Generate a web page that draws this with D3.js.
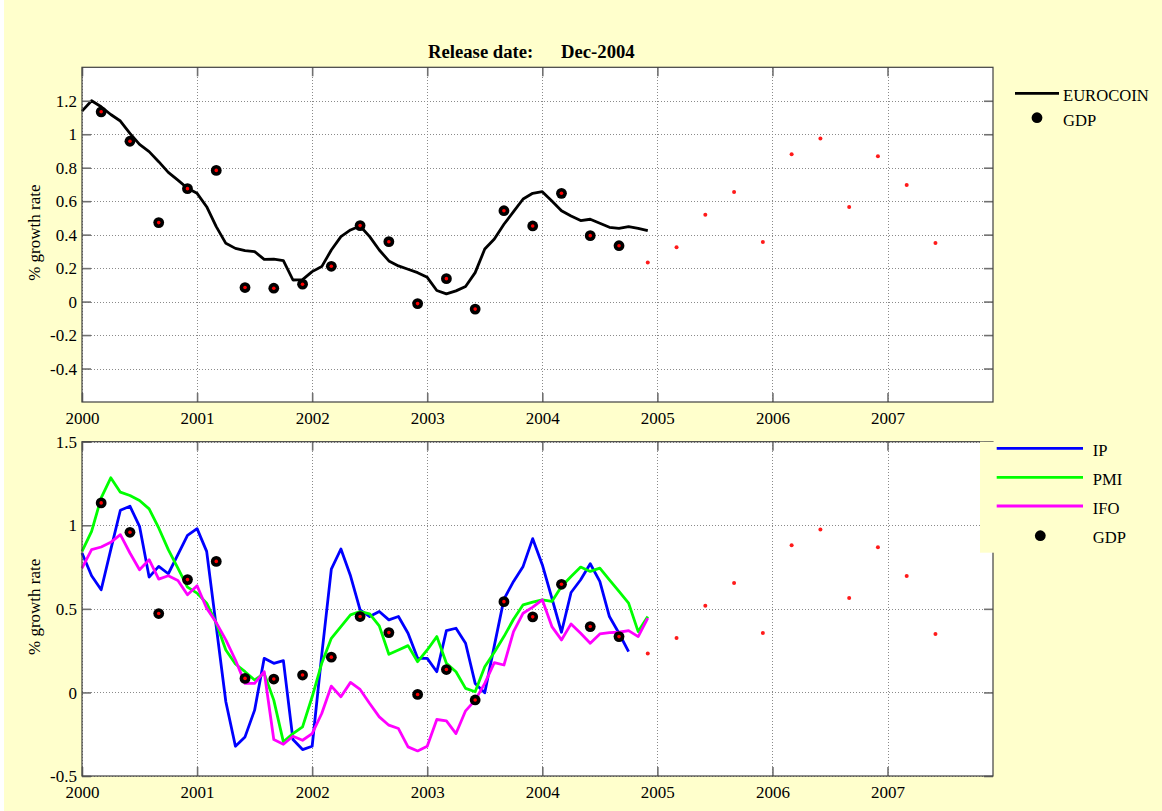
<!DOCTYPE html>
<html>
<head>
<meta charset="utf-8">
<script src="https://cdn.jsdelivr.net/npm/d3@7"></script>
<style>
  html, body { margin: 0; padding: 0; background: #ffffff; }
  svg { display: block; }
  text { font-family: "Liberation Serif", "Times New Roman", serif; fill: #000; }
</style>
</head>
<body>
<svg id="chart" width="1162" height="811"></svg>
<script>
// ---------------- data ----------------
const startYear = 2000;            // first monthly observation: Jan 2000
const yearTicks = [2000, 2001, 2002, 2003, 2004, 2005, 2006, 2007];
const topYTicks = [-0.4, -0.2, 0, 0.2, 0.4, 0.6, 0.8, 1, 1.2];
const botYTicks = [-0.5, 0, 0.5, 1, 1.5];
const titleLeft = "Release date:";
const titleRight = "Dec-2004";
const yLabel = "% growth rate";
const topLegend = ["EUROCOIN", "GDP"];
const botLegend = ["IP", "PMI", "IFO", "GDP"];

// monthly EUROCOIN, Jan 2000 - Dec 2004
const eurocoin = [1.138, 1.200, 1.164, 1.118, 1.079, 1.005, 0.939, 0.896, 0.836, 0.772, 0.726, 0.677,
                  0.647, 0.567, 0.448, 0.348, 0.318, 0.304, 0.299, 0.252, 0.254, 0.245, 0.129, 0.131,
                  0.179, 0.209, 0.308, 0.388, 0.428, 0.452, 0.388, 0.308, 0.243, 0.213, 0.193, 0.173,
                  0.145, 0.066, 0.046, 0.064, 0.090, 0.173, 0.314, 0.374, 0.462, 0.537, 0.613, 0.647,
                  0.657, 0.601, 0.543, 0.511, 0.484, 0.492, 0.468, 0.444, 0.438, 0.448, 0.438, 0.424];

// monthly IP, Jan 2000 - Oct 2004
const ip = [0.834, 0.698, 0.614, 0.854, 1.090, 1.114, 0.994, 0.690, 0.754, 0.710, 0.824, 0.940,
            0.980, 0.844, 0.394, -0.056, -0.322, -0.266, -0.106, 0.204, 0.174, 0.190, -0.282, -0.342,
            -0.322, 0.225, 0.738, 0.858, 0.698, 0.494, 0.454, 0.484, 0.434, 0.454, 0.354, 0.204,
            0.204, 0.124, 0.370, 0.384, 0.294, 0.054, -0.002, 0.280, 0.558, 0.664, 0.754, 0.920,
            0.764, 0.564, 0.360, 0.598, 0.674, 0.770, 0.664, 0.454, 0.354, 0.244];

// monthly PMI, Jan 2000 - Dec 2004
const pmi = [0.844, 0.964, 1.164, 1.284, 1.198, 1.178, 1.148, 1.098, 0.984, 0.854, 0.744, 0.630,
             0.594, 0.534, 0.414, 0.254, 0.170, 0.124, 0.074, 0.114, -0.046, -0.296, -0.246, -0.206,
             -0.026, 0.174, 0.324, 0.394, 0.464, 0.484, 0.470, 0.398, 0.228, 0.254, 0.280, 0.184,
             0.254, 0.334, 0.174, 0.124, 0.024, 0.004, 0.154, 0.240, 0.334, 0.438, 0.524, 0.540,
             0.554, 0.544, 0.634, 0.694, 0.750, 0.724, 0.744, 0.674, 0.604, 0.534, 0.364, 0.454];

// monthly IFO, Jan 2000 - Dec 2004
const ifo = [0.744, 0.854, 0.870, 0.898, 0.944, 0.834, 0.734, 0.794, 0.678, 0.698, 0.670, 0.584,
             0.638, 0.504, 0.418, 0.314, 0.194, 0.054, 0.054, 0.124, -0.282, -0.310, -0.262, -0.286,
             -0.246, -0.126, 0.038, -0.026, 0.060, 0.018, -0.066, -0.146, -0.196, -0.216, -0.326, -0.350,
             -0.322, -0.162, -0.170, -0.246, -0.110, -0.046, 0.054, 0.178, 0.164, 0.364, 0.474, 0.510,
             0.554, 0.394, 0.314, 0.410, 0.354, 0.294, 0.350, 0.358, 0.360, 0.370, 0.334, 0.444];

// quarterly GDP (plotted at Mar, Jun, Sep, Dec), released values up to 2004Q3
const gdpMonthOffset = 2;          // first quarter plotted at month index 2
const gdp = [1.134, 0.958, 0.472, 0.675, 0.784, 0.084, 0.080, 0.104, 0.211, 0.454,
             0.358, -0.012, 0.137, -0.045, 0.543, 0.452, 0.647, 0.394, 0.334];
// later GDP values (small red dots), 2004Q4 - 2007Q2
const gdpLater = [0.233, 0.325, 0.519, 0.655, 0.356, 0.880, 0.975, 0.565, 0.868, 0.697, 0.350];

// ---------------- drawing ----------------
const svg = d3.select("#chart");
const W = 1162, H = 811;
const FIG = "#FFFFCC";
const FONT = '"Liberation Serif", "Times New Roman", serif';

svg.append("rect").attr("x", 4).attr("y", 0).attr("width", W - 4).attr("height", H).attr("fill", FIG);

const monthT = i => startYear + i / 12;
const gdpT = i => startYear + (gdpMonthOffset + 3 * i) / 12;

const x = d3.scaleLinear().domain([2000, 2007 + 11 / 12]).range([82, 993]);
const yTop = d3.scaleLinear().domain([-0.6, 1.4]).range([402, 67.3]);
const yBot = d3.scaleLinear().domain([-0.5, 1.5]).range([776, 441.7]);

const fmt = d => String(+(+d).toFixed(1));

function panel(y, yTicks, series) {
  const [y0, y1] = y.range();
  const g = svg.append("g");
  g.append("rect").attr("x", x.range()[0]).attr("y", y1)
    .attr("width", x.range()[1] - x.range()[0]).attr("height", y0 - y1).attr("fill", "#fff");

  // grid
  const gx = g.append("g").attr("transform", `translate(0,${y0})`)
    .call(d3.axisBottom(x).tickValues(yearTicks).tickSize(-(y0 - y1)).tickFormat(""));
  const gy = g.append("g").attr("transform", `translate(${x.range()[0]},0)`)
    .call(d3.axisLeft(y).tickValues(yTicks).tickSize(-(x.range()[1] - x.range()[0])).tickFormat(""));
  [gx, gy].forEach(a => {
    a.select(".domain").remove();
    a.selectAll("line").attr("stroke", "#8a8a8a").attr("stroke-width", 1)
      .attr("stroke-dasharray", "1,2").attr("shape-rendering", "crispEdges");
  });

  // series lines
  series.forEach(s => {
    const line = d3.line().x((d, i) => x(monthT(i))).y(d => y(d));
    g.append("path").datum(s.values).attr("d", line)
      .attr("fill", "none").attr("stroke", s.color).attr("stroke-width", 2.8)
      .attr("stroke-linejoin", "round");
  });

  // later GDP dots
  g.selectAll(".later").data(gdpLater).enter().append("circle")
    .attr("cx", (d, i) => x(gdpT(gdp.length + i))).attr("cy", d => y(d))
    .attr("r", 2).attr("fill", "#ff1a1a");

  // GDP markers
  g.selectAll(".gdpo").data(gdp).enter().append("circle")
    .attr("cx", (d, i) => x(gdpT(i))).attr("cy", d => y(d)).attr("r", 5.4).attr("fill", "#000");
  g.selectAll(".gdpi").data(gdp).enter().append("circle")
    .attr("cx", (d, i) => x(gdpT(i))).attr("cy", d => y(d)).attr("r", 1.8).attr("fill", "#ff0000");

  // inward ticks
  const tl = 9;
  const axes = [
    g.append("g").attr("transform", `translate(0,${y0})`).call(d3.axisBottom(x).tickValues(yearTicks).tickSize(-tl).tickFormat("")),
    g.append("g").attr("transform", `translate(0,${y1})`).call(d3.axisTop(x).tickValues(yearTicks).tickSize(-tl).tickFormat("")),
    g.append("g").attr("transform", `translate(${x.range()[0]},0)`).call(d3.axisLeft(y).tickValues(yTicks).tickSize(-tl).tickFormat("")),
    g.append("g").attr("transform", `translate(${x.range()[1]},0)`).call(d3.axisRight(y).tickValues(yTicks).tickSize(-tl).tickFormat(""))
  ];
  axes.forEach(a => {
    a.select(".domain").remove();
    a.selectAll("line").attr("stroke", "#707070").attr("stroke-width", 1.6);
  });

  // frame
  g.append("rect").attr("x", x.range()[0]).attr("y", y1)
    .attr("width", x.range()[1] - x.range()[0]).attr("height", y0 - y1)
    .attr("fill", "none").attr("stroke", "#404040").attr("stroke-width", 1.2);

  // labels
  const lx = g.append("g").attr("transform", `translate(0,${y0})`)
    .call(d3.axisBottom(x).tickValues(yearTicks).tickSize(0).tickPadding(0).tickFormat(d3.format("d")));
  lx.select(".domain").remove();
  lx.selectAll("text").attr("dy", null).attr("y", 22)
    .style("font-family", FONT).style("font-size", "17px").attr("fill", "#000");

  const ly = g.append("g").attr("transform", `translate(${x.range()[0]},0)`)
    .call(d3.axisLeft(y).tickValues(yTicks).tickSize(0).tickPadding(0).tickFormat(fmt));
  ly.select(".domain").remove();
  ly.selectAll("text").attr("x", -5).attr("dy", "0.33em")
    .style("font-family", FONT).style("font-size", "17px").attr("fill", "#000");

  g.append("text").attr("transform", `translate(40,${(y0 + y1) / 2 - 2}) rotate(-90)`)
    .attr("text-anchor", "middle").style("font-size", "17px").text(yLabel);
  return g;
}

panel(yTop, topYTicks, [{ values: eurocoin, color: "#000000" }]);
panel(yBot, botYTicks, [
  { values: ip, color: "#0000ff" },
  { values: pmi, color: "#00ff00" },
  { values: ifo, color: "#ff00ff" }
]);

// title
svg.append("text").attr("x", 428).attr("y", 58).style("font-size", "18.7px").style("font-weight", "bold").text(titleLeft);
svg.append("text").attr("x", 561).attr("y", 58).style("font-size", "18.7px").style("font-weight", "bold").text(titleRight);

// top legend
const lt = svg.append("g");
lt.append("line").attr("x1", 1015).attr("x2", 1059).attr("y1", 93.3).attr("y2", 93.3)
  .attr("stroke", "#000").attr("stroke-width", 2.8);
lt.append("circle").attr("cx", 1037).attr("cy", 117.7).attr("r", 5.4).attr("fill", "#000");
lt.selectAll("text").data(topLegend).enter().append("text")
  .attr("x", 1063).attr("y", (d, i) => [101, 125.5][i]).style("font-size", "16.6px").text(d => d);

// bottom legend
const lb = svg.append("g");
lb.append("rect").attr("x", 980).attr("y", 441.7).attr("width", W - 980).attr("height", 111).attr("fill", FIG);
const legColors = ["#0000ff", "#00ff00", "#ff00ff"];
const legY = [448.3, 477.3, 506, 535.7];
legColors.forEach((c, i) => {
  lb.append("line").attr("x1", 996.7).attr("x2", 1083).attr("y1", legY[i]).attr("y2", legY[i])
    .attr("stroke", c).attr("stroke-width", 2.8);
});
lb.append("circle").attr("cx", 1040.3).attr("cy", legY[3]).attr("r", 5.4).attr("fill", "#000");
lb.selectAll("text").data(botLegend).enter().append("text")
  .attr("x", 1092.7).attr("y", (d, i) => legY[i] + 7.5).style("font-size", "16.6px").text(d => d);
</script>
</body>
</html>
